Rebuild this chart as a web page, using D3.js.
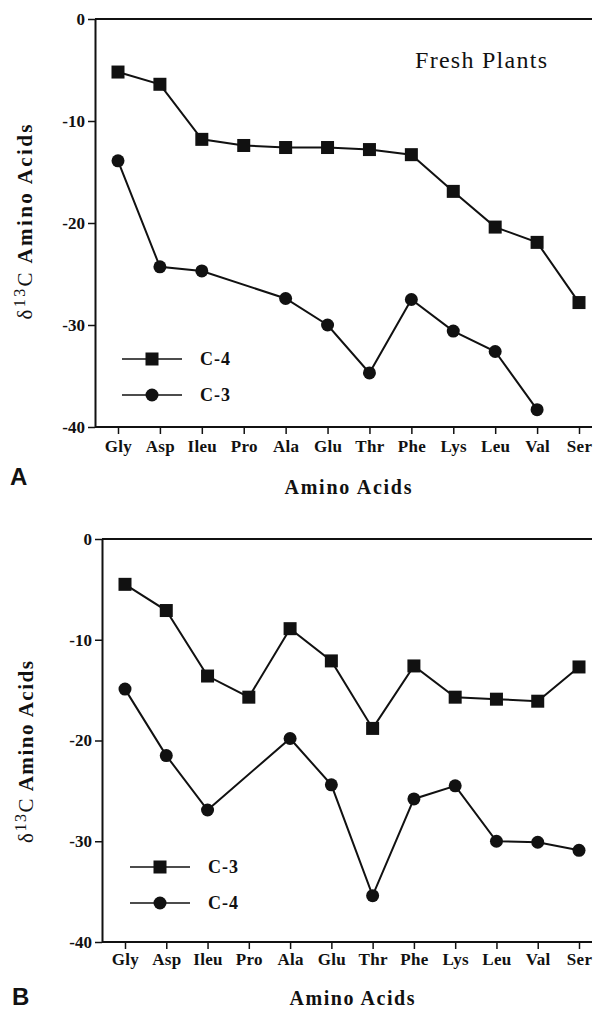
<!DOCTYPE html>
<html>
<head>
<meta charset="utf-8">
<script src="https://cdnjs.cloudflare.com/ajax/libs/d3/7.8.5/d3.min.js"></script>
<style>
  body { margin: 0; background: #fff; }
  svg text { font-family: "Liberation Serif", "Times New Roman", serif; fill: #111; }
</style>
</head>
<body>
<div id="chart"></div>
<script>
// amino acids on the x axis, same order in both panels
var aminoAcids = ["Gly", "Asp", "Ileu", "Pro", "Ala", "Glu", "Thr", "Phe", "Lys", "Leu", "Val", "Ser"];
var yTicks = [0, -10, -20, -30, -40];

// panel A - fresh plants
var freshC4 = [-5.2, -6.4, -11.8, -12.4, -12.6, -12.6, -12.8, -13.3, -16.9, -20.4, -21.9, -27.8];
var freshC3 = [-13.9, -24.3, -24.7, null, -27.4, -30.0, -34.7, -27.5, -30.6, -32.6, -38.3, null];

// panel B
var panelBC3 = [-4.5, -7.1, -13.6, -15.7, -8.9, -12.1, -18.8, -12.6, -15.7, -15.9, -16.1, -12.7];
var panelBC4 = [-14.9, -21.5, -26.9, null, -19.8, -24.4, -35.4, -25.8, -24.5, -30.0, -30.1, -30.9];

var width = 593, height = 1009;
var ink = "#111";

var svg = d3.select("#chart").append("svg")
    .attr("width", width)
    .attr("height", height);

function drawPanel(o) {
    var g = svg.append("g");
    var x = d3.scalePoint().domain(aminoAcids).range([o.x0, o.x1]);
    var y = d3.scaleLinear().domain([-40, 0]).range([o.bottom, o.top]);

    // top frame line
    g.append("line")
        .attr("x1", o.left).attr("x2", width - 1)
        .attr("y1", y(0)).attr("y2", y(0))
        .attr("stroke", ink).attr("stroke-width", 2);

    // y axis
    var ya = g.append("g")
        .attr("transform", "translate(" + o.left + ",0)")
        .call(d3.axisLeft(y).tickValues(yTicks).tickSize(7).tickSizeOuter(0).tickPadding(3)
            .tickFormat(function(d){ return String(d) }));
    ya.select(".domain").attr("stroke", ink).attr("stroke-width", 2);
    ya.selectAll(".tick line").attr("stroke", ink).attr("stroke-width", 1.5);
    ya.selectAll(".tick text")
        .attr("font-family", null)
        .style("font-size", "17px").style("font-weight", "bold");

    // x axis
    var xa = g.append("g")
        .attr("transform", "translate(0," + o.bottom + ")")
        .call(d3.axisBottom(x).tickSize(7).tickSizeOuter(0));
    xa.select(".domain").remove();
    xa.append("line")
        .attr("x1", o.left).attr("x2", width - 1)
        .attr("stroke", ink).attr("stroke-width", 2);
    xa.selectAll(".tick line").attr("stroke", ink).attr("stroke-width", 1.5);
    xa.selectAll(".tick text")
        .attr("font-family", null)
        .attr("y", o.labelY).attr("dy", 0)
        .style("font-size", "17px").style("font-weight", "bold")
        .style("letter-spacing", "0.3px");

    // axis titles
    g.append("text")
        .attr("x", o.titleX).attr("y", o.titleY)
        .attr("text-anchor", "middle")
        .attr("textLength", o.titleLen).attr("lengthAdjust", "spacing")
        .style("font-size", "20px").style("font-weight", "bold")
        .text("Amino  Acids");

    var yt = g.append("text")
        .attr("transform", "translate(" + o.yTitleX + "," + o.yTitleY + ") rotate(-90)")
        .attr("text-anchor", "middle")
        .attr("textLength", o.yTitleLen).attr("lengthAdjust", "spacing")
        .style("font-size", "21px");
    yt.append("tspan").text("\u03b4");
    yt.append("tspan").attr("dy", -7).style("font-size", "16px").text("13");
    yt.append("tspan").attr("dy", 7).text("C");
    yt.append("tspan").style("font-weight", "bold").text("  Amino  Acids");

    // panel letter
    g.append("text")
        .attr("x", o.letterX).attr("y", o.letterY)
        .style("font-family", "'Liberation Sans', Arial, sans-serif")
        .style("font-size", "24px").style("font-weight", "bold")
        .text(o.letter);

    // series
    var line = d3.line()
        .x(function(d){ return x(d.name) })
        .y(function(d){ return y(d.value) });

    function points(values) {
        return aminoAcids.map(function(a, i){ return { name: a, value: values[i] } })
            .filter(function(d){ return d.value != null });
    }

    var sq = points(o.squares), ci = points(o.circles);

    g.append("path").datum(sq).attr("d", line)
        .attr("fill", "none").attr("stroke", ink).attr("stroke-width", 2);
    g.append("path").datum(ci).attr("d", line)
        .attr("fill", "none").attr("stroke", ink).attr("stroke-width", 2);

    g.selectAll(".sq").data(sq).enter().append("rect")
        .attr("class", "sq")
        .attr("x", function(d){ return x(d.name) - 6.5 })
        .attr("y", function(d){ return y(d.value) - 6.5 })
        .attr("width", 13).attr("height", 13)
        .attr("fill", ink);
    g.selectAll(".ci").data(ci).enter().append("circle")
        .attr("class", "ci")
        .attr("cx", function(d){ return x(d.name) })
        .attr("cy", function(d){ return y(d.value) })
        .attr("r", 6.5)
        .attr("fill", ink);

    // legend
    var lg = g.append("g").attr("transform", "translate(" + o.legendX + "," + o.legendY + ")");
    var items = [{ shape: "square", label: o.squareLabel }, { shape: "circle", label: o.circleLabel }];
    items.forEach(function(it, i){
        var row = lg.append("g").attr("transform", "translate(0," + (i * 36) + ")");
        row.append("line").attr("x1", 0).attr("x2", 60)
            .attr("stroke", ink).attr("stroke-width", 1.5);
        if (it.shape === "square") {
            row.append("rect").attr("x", 30 - 6.5).attr("y", -6.5)
                .attr("width", 13).attr("height", 13).attr("fill", ink);
        } else {
            row.append("circle").attr("cx", 30).attr("r", 6.5).attr("fill", ink);
        }
        row.append("text").attr("x", 78).attr("y", 6)
            .style("font-size", "18px").style("font-weight", "bold")
            .style("letter-spacing", "1px")
            .text(it.label);
    });

    return g;
}

var gA = drawPanel({
    letter: "A", letterX: 10, letterY: 485,
    left: 95, top: 19, bottom: 427, x0: 118, x1: 579, labelY: 25,
    titleX: 348, titleY: 494, titleLen: 127,
    yTitleX: 32, yTitleY: 222, yTitleLen: 195,
    squares: freshC4, circles: freshC3,
    squareLabel: "C-4", circleLabel: "C-3",
    legendX: 122, legendY: 359
});

gA.append("text")
    .attr("x", 415).attr("y", 68)
    .attr("textLength", 132).attr("lengthAdjust", "spacing")
    .style("font-size", "24px")
    .text("Fresh Plants");

drawPanel({
    letter: "B", letterX: 12, letterY: 1005,
    left: 102, top: 539, bottom: 942, x0: 125, x1: 579, labelY: 23,
    titleX: 352, titleY: 1005, titleLen: 125,
    yTitleX: 33, yTitleY: 752, yTitleLen: 182,
    squares: panelBC3, circles: panelBC4,
    squareLabel: "C-3", circleLabel: "C-4",
    legendX: 130, legendY: 867
});
</script>
</body>
</html>
